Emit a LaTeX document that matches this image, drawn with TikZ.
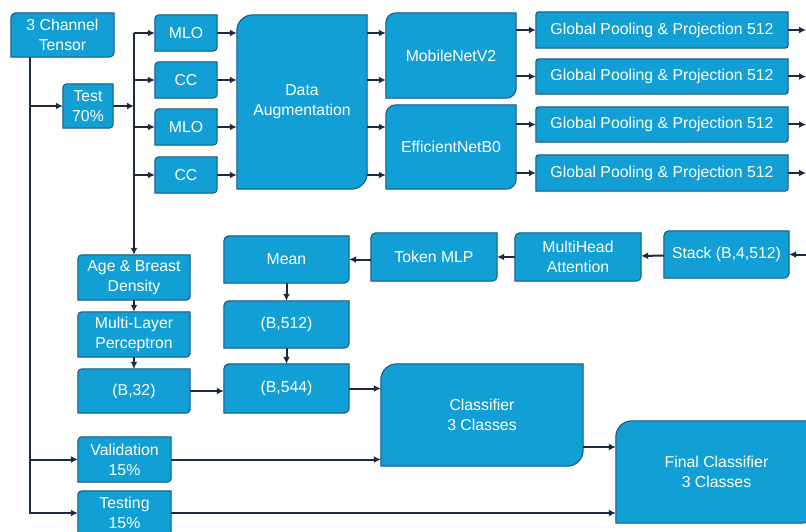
\documentclass[tikz,border=0pt]{standalone}
\usepackage{fontspec}
\setmainfont{Liberation Sans}
\usetikzlibrary{positioning,arrows.meta,backgrounds}
\definecolor{boxfill}{HTML}{129FD6}
\definecolor{boxline}{HTML}{17557F}
\definecolor{wire}{HTML}{1B2A41}
\tikzset{
  blk/.style={text=white,align=center,inner sep=0pt,font=\fontsize{15.8}{20}\selectfont},
  shp/.style={fill=boxfill,draw=boxline,line width=1pt},
  arr/.style={-{Latex[length=7pt,width=7pt]},draw=wire,line width=2pt}
}
\begin{document}
\begin{tikzpicture}[x=1pt,y=-1pt]
\useasboundingbox (0,0) rectangle (806,532);
% boxes: name/x/y/width/height/text
\foreach \n/\x/\y/\w/\h/\t in {
  tensor/62.5/35/103/44/{3 Channel\\Tensor},
  test/88/106/50/44/{Test\\70\%},
  mloA/186/33/62/36/MLO, ccA/186/80/62/36/CC,
  mloB/186/127/62/36/MLO, ccB/186/175/62/36/CC,
  aug/302/102/130/174/{Data\\Augmentation},
  mobile/451/55.5/130/85/MobileNetV2,
  effic/451/147/130/84/EfficientNetB0,
  gp1/662/30/252/36/{Global Pooling \& Projection 512},
  gp2/662/76.5/252/35/{Global Pooling \& Projection 512},
  gp3/662/124.5/252/35/{Global Pooling \& Projection 512},
  gp4/662/173/252/36/{Global Pooling \& Projection 512},
  age/134/277.5/112/45/{Age \& Breast\\Density},
  mlp/134/334.5/112/45/{Multi-Layer\\Perceptron},
  bt/134/391/112/44/{(B,32)},
  mean/286.5/259.5/125/47/Mean,
  bf/286.5/324.5/125/47/{(B,512)},
  bc/286.5/388.5/125/49/{(B,544)},
  token/434/257/126/48/{Token MLP},
  mha/578/257/126/48/{MultiHead\\Attention},
  stack/726.5/254.5/125/47/{Stack (B,4,512)},
  clf/482/415/202/102/{Classifier\\3 Classes},
  final/716.5/472/201/102/{Final Classifier\\3 Classes},
  val/124.5/459.5/93/45/{Validation\\15\%},
  testing/124.5/513/93/44/{Testing\\15\%}}
  \node[blk,minimum width=\w pt,minimum height=\h pt] (\n) at (\x,\y) {\t};

\begin{scope}[on background layer]
\foreach \n/\r in {tensor/5,test/4,mloA/4,ccA/4,mloB/4,ccB/4,aug/16,mobile/10,effic/10,
  gp1/3,gp2/3,gp3/3,gp4/3,age/4,mlp/4,bt/4,mean/5,bf/5,bc/5,token/5,mha/5,stack/5,
  clf/16,final/16,val/4,testing/4}
  \draw[shp] ([yshift=-\r pt]\n.north west) arc[start angle=180,end angle=90,radius=\r pt]
    -- (\n.north east) -- ([yshift=\r pt]\n.south east) arc[start angle=0,end angle=-90,radius=\r pt]
    -- (\n.south west) -- cycle;
\end{scope}

\coordinate (trunk) at (30,0);
\coordinate (edge) at (806,0);

% splitting
\foreach \b in {test,val,testing}
  \draw[arr] (tensor.south -| trunk) |- (\b);
\draw[arr] (test) -- (age |- test);
\draw[arr] (age |- mloA) -- (age);
\foreach \n in {mloA,ccA,mloB,ccB}{
  \draw[arr] (age |- \n) -- (\n);
  \draw[arr] (\n) -- (aug.west |- \n);
}
% backbones
\foreach \a/\b in {mloA/mobile,ccA/mobile,mloB/effic,ccB/effic}
  \draw[arr] (aug.east |- \a) -- (\b.west |- \a);
\foreach \a/\b in {mobile/gp1,mobile/gp2,effic/gp3,effic/gp4}
  \draw[arr] (\a.east |- \b) -- (\b);
\foreach \b in {gp1,gp2,gp3,gp4}
  \draw[arr] (\b) -- (\b -| edge);

% fusion
\draw[arr] (stack -| edge) -- (stack);
\draw[arr] (stack) -- (mha);
\draw[arr] (mha) -- (token);
\draw[arr] (token.west |- mean) -- (mean);
\foreach \a/\b in {mean/bf,bf/bc,age/mlp,mlp/bt}
  \draw[arr] (\a) -- (\b);
\draw[arr] (bt) -- (bc.west |- bt);
\draw[arr] (bc) -- (clf.west |- bc);
\draw[arr] (val) -- (clf.west |- val);
\draw[arr] ([yshift=-32pt]clf.east) -- ([yshift=-32pt]clf.east -| final.west);
\draw[arr] (testing) -- (final.west |- testing);
\end{tikzpicture}
\end{document}
